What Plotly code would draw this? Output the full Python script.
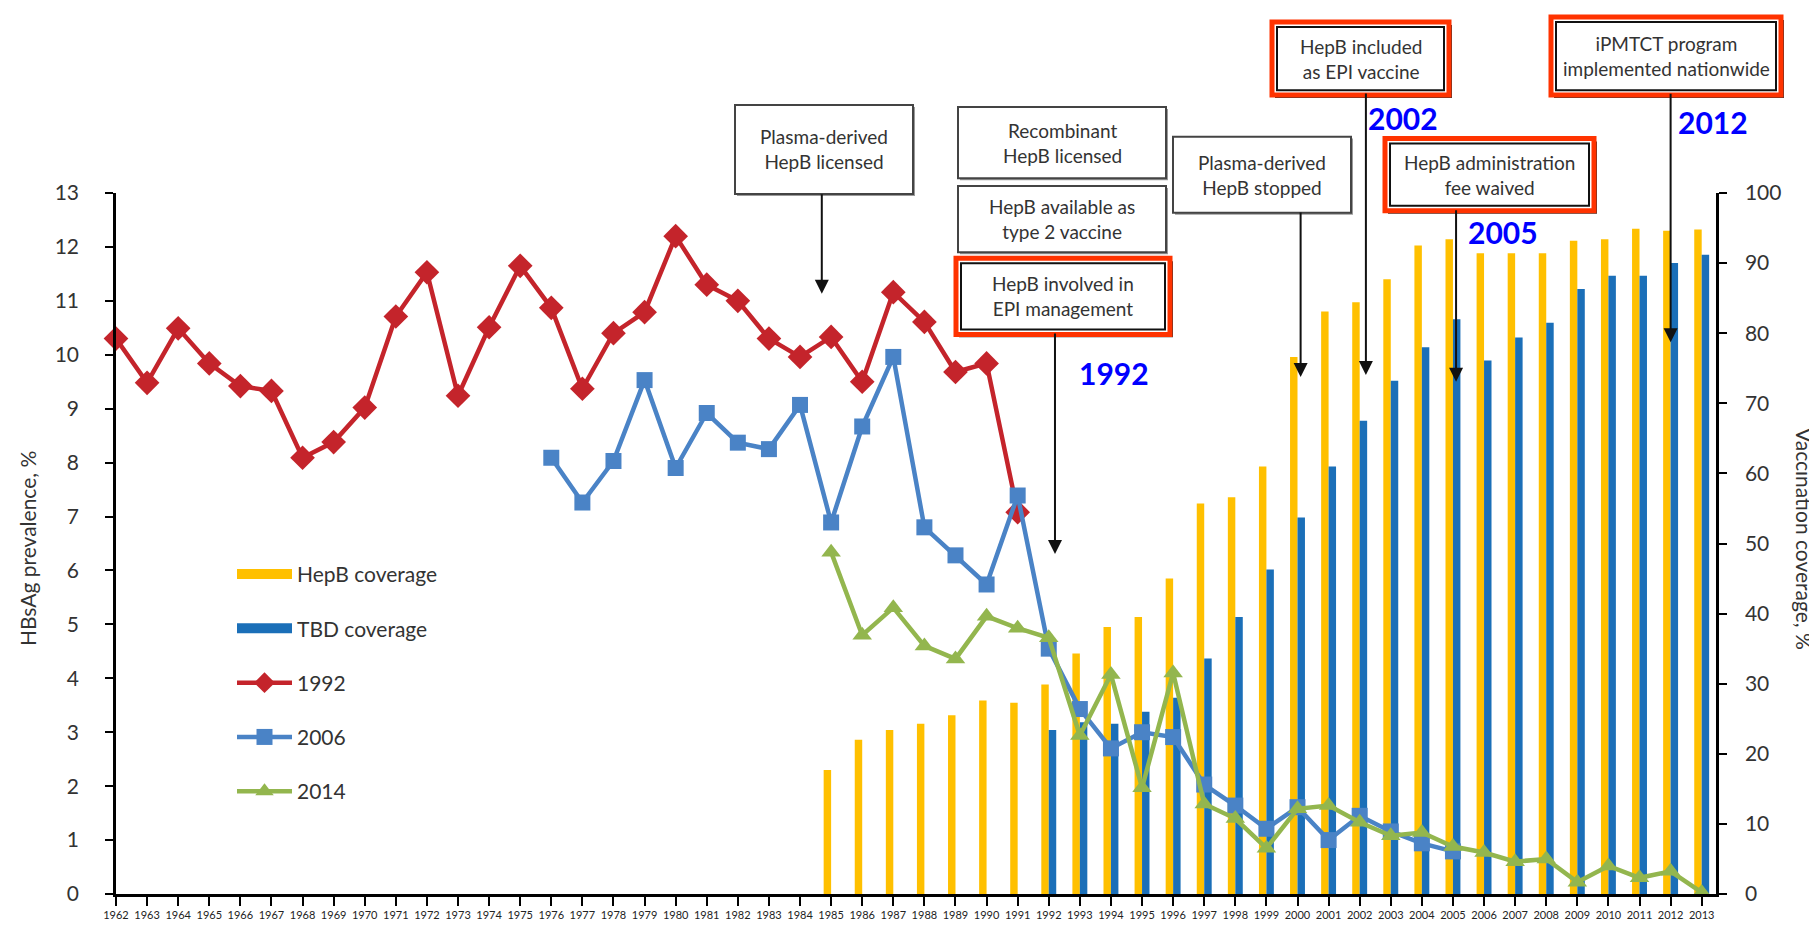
import plotly.graph_objects as go

# categories
years = [1962, 1963, 1964, 1965, 1966, 1967, 1968, 1969, 1970, 1971, 1972, 1973, 1974,
         1975, 1976, 1977, 1978, 1979, 1980, 1981, 1982, 1983, 1984, 1985, 1986, 1987,
         1988, 1989, 1990, 1991, 1992, 1993, 1994, 1995, 1996, 1997, 1998, 1999, 2000,
         2001, 2002, 2003, 2004, 2005, 2006, 2007, 2008, 2009, 2010, 2011, 2012, 2013]
year_labels = [str(y) for y in years]

# HBsAg prevalence (%) by birth year, surveys 1992 / 2006 / 2014
years_1992 = years[0:30]      # 1962-1991
prev_1992 = [10.3, 9.48, 10.49, 9.84, 9.42, 9.33, 8.09, 8.38, 9.02, 10.71,
             11.53, 9.24, 10.51, 11.65, 10.87, 9.37, 10.4, 10.79, 12.2, 11.3,
             11.0, 10.3, 9.96, 10.33, 9.5, 11.16, 10.61, 9.68, 9.84, 7.08]
years_2006 = years[14:44]     # 1976-2005
prev_2006 = [8.09, 7.26, 8.03, 9.53, 7.9, 8.92, 8.37, 8.25, 9.07, 6.89,
             8.67, 9.96, 6.8, 6.28, 5.74, 7.39, 4.55, 3.43, 2.7, 3.0,
             2.91, 2.03, 1.64, 1.21, 1.61, 1.0, 1.45, 1.16, 0.94, 0.79]
years_2014 = years[23:]       # 1985-2013
prev_2014 = [6.34, 4.8, 5.31, 4.6, 4.36, 5.15, 4.93, 4.75, 2.94, 4.07,
             1.97, 4.1, 1.67, 1.4, 0.85, 1.58, 1.64, 1.33, 1.08, 1.14,
             0.88, 0.77, 0.6, 0.65, 0.22, 0.52, 0.3, 0.42, 0.03]

# vaccination coverage (%)
years_hepb = years[23:]       # 1985-2013
hepb_cov = [17.7, 22.0, 23.4, 24.3, 25.5, 27.6, 27.3, 29.9, 34.3, 38.1,
            39.5, 45.0, 55.7, 56.6, 61.0, 76.6, 83.1, 84.4, 87.7, 92.5,
            93.4, 91.4, 91.4, 91.4, 93.2, 93.4, 94.9, 94.6, 94.8]
years_tbd = years[30:]        # 1992-2013
tbd_cov = [23.4, 24.5, 24.3, 26.0, 28.0, 33.6, 39.5, 46.3, 53.7, 61.0,
           67.5, 73.2, 78.0, 82.0, 76.1, 79.4, 81.5, 86.3, 88.2, 88.2,
           90.0, 91.2]

# policy milestones: (year the arrow points at, label, highlighted)
events = [
    (1984.7, "Plasma-derived<br>HepB licensed", False),
    (None, "Recombinant<br>HepB licensed", False),
    (None, "HepB available as<br>type 2 vaccine", False),
    (1992.2, "HepB involved in<br>EPI management", True),
    (2000.1, "Plasma-derived<br>HepB stopped", False),
    (2002.2, "HepB included<br>as EPI vaccine", True),
    (2005.1, "HepB administration<br>fee waived", True),
    (2012.0, "iPMTCT program<br>implemented nationwide", True),
]
year_tags = ["1992", "2002", "2005", "2012"]

# pixel layout of the boxes (x0, x1, y0, y1) and arrows (tail y, tip y)
box_px = [(727, 905, 96, 186), (950, 1158, 98, 170), (950, 1158, 178, 245),
          (948, 1162, 251, 328), (1165, 1343, 128, 205), (1264, 1441, 12, 86),
          (1377, 1586, 130, 203), (1543, 1773, 7, 86)]
arrow_px = [(186, 287), None, None, (328, 550), (205, 371), (86, 369), (203, 376), (86, 336)]
tag_px = [(1106, 367), (1395, 109), (1495, 224), (1705, 113)]

PL, PR, PT, PB = 108, 1708, 185, 894
W, H = 1817, 925
FONT = "Lato"
YELLOW = "#FFC000"
DKBLUE = "#1B6FB8"
RED = "#C4242B"
LBLUE = "#4A83C6"
GREEN = "#93B64E"


def px_x(p):
    return (p - PL) / (PR - PL)


def px_y(p):
    return (PB - p) / (PB - PT)


def rect(x0, x1, y0, y1, **kw):
    return dict(type="rect", xref="paper", yref="paper", x0=px_x(x0), x1=px_x(x1),
                y0=px_y(y1), y1=px_y(y0), **kw)


fig = go.Figure()

bw = 0.24
fig.add_trace(go.Bar(x=years_hepb, y=hepb_cov, width=bw, offset=-bw, marker=dict(color=YELLOW, line_width=0),
                     showlegend=False, yaxis="y"))
fig.add_trace(go.Bar(x=years_tbd, y=tbd_cov, width=bw, offset=0.0, marker=dict(color=DKBLUE, line_width=0),
                     showlegend=False, yaxis="y"))

# legend swatches for the bars
fig.add_trace(go.Scatter(x=[None], y=[None], mode="lines", name="HepB coverage", line=dict(color=YELLOW, width=14),
                         legendgroup="a", legendrank=1, yaxis="y2"))
fig.add_trace(go.Scatter(x=[None], y=[None], mode="lines", name="TBD coverage", line=dict(color=DKBLUE, width=14),
                         legendgroup="b", legendrank=2, yaxis="y2"))

fig.add_trace(go.Scatter(x=years_1992, y=prev_1992, mode="lines+markers", name="1992", yaxis="y2",
                         line=dict(color=RED, width=4.5), marker=dict(symbol="diamond", size=19, color=RED),
                         cliponaxis=False, legendgroup="c", legendrank=3))
fig.add_trace(go.Scatter(x=years_2006, y=prev_2006, mode="lines+markers", name="2006", yaxis="y2",
                         line=dict(color=LBLUE, width=4.5), marker=dict(symbol="square", size=16, color=LBLUE),
                         cliponaxis=False, legendgroup="d", legendrank=4))
fig.add_trace(go.Scatter(x=years_2014, y=prev_2014, mode="lines+markers", name="2014", yaxis="y2",
                         line=dict(color=GREEN, width=4.5), marker=dict(symbol="triangle-up", size=17, color=GREEN),
                         cliponaxis=False, legendgroup="e", legendrank=5))

shapes = []
annotations = []
for i, (yr, text, red) in enumerate(events):
    x0, x1, y0, y1 = box_px[i]
    if red:
        # dark drop shadow, red outer frame, black inner frame
        shapes.append(rect(x0 + 3, x1 + 3, y0 + 3, y1 + 3, line=dict(width=0), fillcolor="#333333"))
        shapes.append(rect(x0, x1, y0, y1, line=dict(color="#FF3300", width=5), fillcolor="white"))
        shapes.append(rect(x0 + 5, x1 - 5, y0 + 5, y1 - 5, line=dict(color="#111111", width=2)))
    else:
        shapes.append(rect(x0 + 2, x1 + 2, y0 + 2, y1 + 2, line=dict(width=0), fillcolor="#9a9a9a"))
        shapes.append(rect(x0, x1, y0, y1, line=dict(color="#444444", width=2), fillcolor="white"))
    annotations.append(dict(x=px_x((x0 + x1) / 2), y=px_y((y0 + y1) / 2), xref="paper", yref="paper",
                            text=text, showarrow=False, font=dict(family=FONT, size=19, color="#333333"),
                            align="center", xanchor="center", yanchor="middle"))
    if yr is not None:
        tail, tip = arrow_px[i]
        annotations.append(dict(x=yr, y=px_y(tip), xref="x", yref="paper", ax=0, ay=-(tip - tail),
                                axref="pixel", ayref="pixel", text="", showarrow=True, arrowhead=2,
                                arrowsize=1.4, arrowwidth=2, arrowcolor="#111111", standoff=0))

for tag, (tx, ty) in zip(year_tags, tag_px):
    annotations.append(dict(x=px_x(tx), y=px_y(ty), xref="paper", yref="paper", text="<b>" + tag + "</b>",
                            showarrow=False, font=dict(family=FONT, size=30, color="#0000FF"),
                            xanchor="center", yanchor="middle"))

# axis titles
annotations.append(dict(x=px_x(20), y=px_y(545), xref="paper", yref="paper", text="HBsAg prevalence, %",
                        showarrow=False, textangle=-90, xanchor="center", yanchor="middle",
                        font=dict(family=FONT, size=21, color="#333333")))
annotations.append(dict(x=px_x(1797), y=px_y(535), xref="paper", yref="paper", text="Vaccination coverage, %",
                        showarrow=False, textangle=90, xanchor="center", yanchor="middle",
                        font=dict(family=FONT, size=21, color="#333333")))

fig.update_layout(
    width=W, height=H,
    margin=dict(l=PL, r=W - PR, t=PT, b=H - PB),
    paper_bgcolor="white", plot_bgcolor="white",
    barmode="overlay",
    font=dict(family=FONT, color="#333333"),
    xaxis=dict(range=[1962, 2013.46], tickvals=years, ticktext=year_labels, tickangle=0,
               tickfont=dict(size=11, color="#222222"), ticks="outside", ticklen=9, tickwidth=2,
               tickcolor="black", showline=True, linecolor="black", linewidth=2.5, showgrid=False,
               zeroline=False),
    yaxis=dict(range=[0, 100], dtick=10, side="right", ticks="outside", ticklen=8, tickwidth=2,
               tickcolor="black", showline=True, linecolor="black", linewidth=2.5, showgrid=False,
               zeroline=False, tickfont=dict(size=21, color="#333333"), ticklabelstandoff=14),
    yaxis2=dict(range=[0, 13], dtick=1, side="left", overlaying="y", ticks="outside", ticklen=8,
                tickwidth=2, tickcolor="black", showline=True, linecolor="black", linewidth=2.5,
                showgrid=False, zeroline=False, tickfont=dict(size=21, color="#333333"),
                ticklabelstandoff=22),
    legend=dict(x=px_x(224), y=px_y(550), xanchor="left", yanchor="top", bgcolor="rgba(0,0,0,0)",
                font=dict(family=FONT, size=21, color="#333333"), itemwidth=55, tracegroupgap=24,
                traceorder="grouped"),
    shapes=shapes,
    annotations=annotations,
)

fig.write_html("out.html")
